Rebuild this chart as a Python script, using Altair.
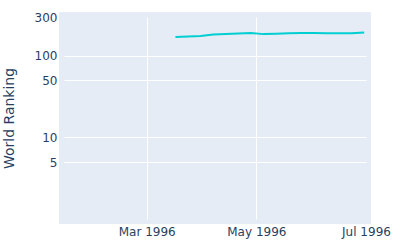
import altair as alt
import pandas as pd

dates = ["1996-03-17", "1996-03-24", "1996-03-31", "1996-04-07", "1996-04-14",
         "1996-04-21", "1996-04-28", "1996-05-05", "1996-05-12", "1996-05-19",
         "1996-05-26", "1996-06-02", "1996-06-09", "1996-06-16", "1996-06-23",
         "1996-06-30"]
ranking = [171, 173, 175, 183, 186, 188, 191, 185, 187, 189, 191, 191, 190, 190, 190, 193]

y_ticks = [5, 10, 50, 100, 300]
x_ticks = ["1996-03-01", "1996-05-01", "1996-07-01"]

df = pd.DataFrame({"date": pd.to_datetime(dates), "rank": ranking})

font = "DejaVu Sans"
txt = "#2a3f5f"

chart = alt.Chart(df).mark_line(color="#00CED1", strokeWidth=2).encode(
    x=alt.X(
        "date:T",
        scale=alt.Scale(domain=["1996-01-15", "1996-07-01"], nice=False),
        axis=alt.Axis(
            values=[pd.Timestamp(t).isoformat() for t in x_ticks],
            format="%b %Y",
            title=None,
            ticks=False,
            domain=False,
            labelPadding=7,
            labelFontSize=12,
            labelFont=font,
            labelColor=txt,
            gridColor="white",
            gridWidth=1,
            gridOpacity={"condition": {"test": "month(datum.value) == 6", "value": 0}, "value": 1},
            labelBound=False,
            labelFlush=False,
        ),
    ),
    y=alt.Y(
        "rank:Q",
        scale=alt.Scale(type="log", domain=[1, 300], nice=False),
        axis=alt.Axis(
            values=y_ticks,
            format="d",
            title="World Ranking",
            ticks=False,
            domain=False,
            labelPadding=7,
            labelFontSize=12,
            labelFont=font,
            labelColor=txt,
            titleFont=font,
            titleFontSize=14,
            titleFontWeight="normal",
            titleColor=txt,
            titleAngle=-90,
            titleAlign="center",
            titleBaseline="middle",
            titleX=-55,
            titleY=101,
            gridColor="white",
            gridWidth=1,
            gridOpacity={"condition": {"test": "datum.value == 300", "value": 0}, "value": 1},
        ),
    ),
).properties(
    width=302,
    height=202,
    autosize=alt.AutoSizeParams(type="none"),
    padding={"left": 64, "top": 17, "right": 34, "bottom": 31},
    background="white",
).configure_view(
    fill="#E5ECF6",
    stroke="#E5ECF6",
    strokeWidth=10,
)

chart.save("out.html", embed_options={"renderer": "svg", "actions": False})
